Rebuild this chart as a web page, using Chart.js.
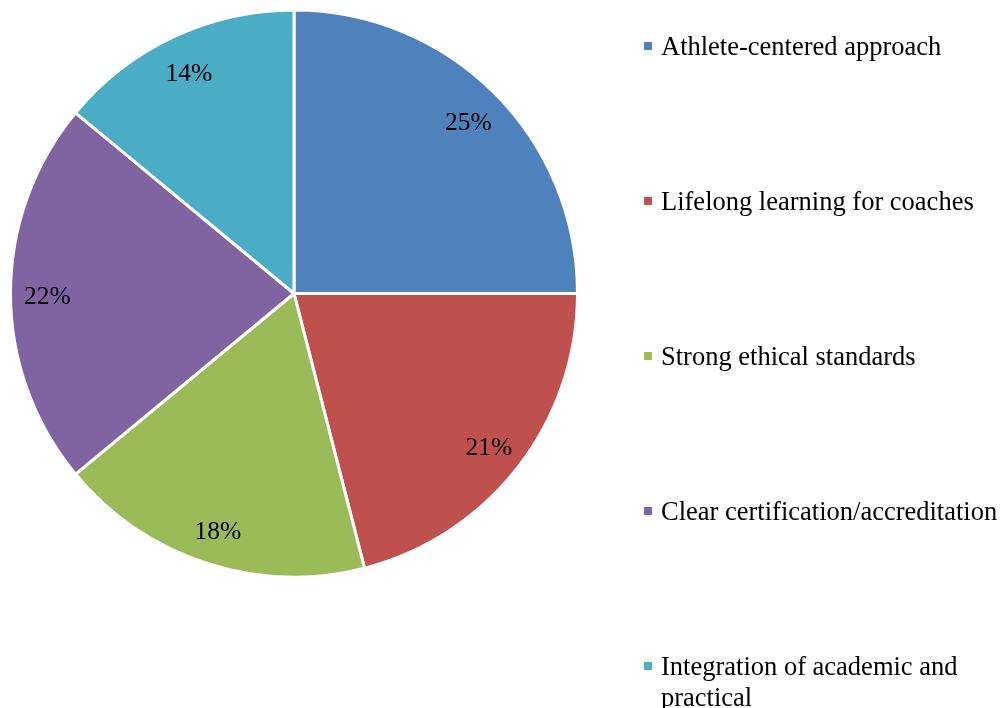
<!DOCTYPE html>
<html>
<head>
<meta charset="utf-8">
<script src="https://cdn.jsdelivr.net/npm/chart.js@4"></script>
<style>
  html, body { margin: 0; padding: 0; background: #fff; }
  canvas { display: block; }
</style>
</head>
<body>
<canvas id="pie" width="1003" height="708"></canvas>
<script>
// chart data
const categories = [
    'Athlete-centered approach',
    'Lifelong learning for coaches',
    'Strong ethical standards',
    'Clear certification/accreditation',
    'Integration of academic and practical'
];
const shares = [25, 21, 18, 22, 14];
const sliceColors = ['#4F81BD', '#C0504D', '#9BBB59', '#8064A2', '#4BACC6'];

const FONT = '"Liberation Serif", "Times New Roman", serif';

// percent labels inside the slices
const sliceLabels = {
    id: 'sliceLabels',
    afterDatasetsDraw(chart) {
        const ctx = chart.ctx;
        const meta = chart.getDatasetMeta(0);
        ctx.save();
        ctx.font = '25.5px ' + FONT;
        ctx.fillStyle = '#000';
        ctx.textAlign = 'center';
        ctx.textBaseline = 'middle';
        meta.data.forEach((arc, i) => {
            const mid = (arc.startAngle + arc.endAngle) / 2;
            const r = arc.outerRadius * 0.87;
            ctx.fillText(shares[i] + '%', arc.x + Math.cos(mid) * r, arc.y + Math.sin(mid) * r + 4);
        });
        ctx.restore();
    }
};

// legend on the right, spaced out like the original
const sideLegend = {
    id: 'sideLegend',
    afterDraw(chart) {
        const ctx = chart.ctx;
        const x0 = 644, textX = 661, maxW = 340;
        let y = 46;
        ctx.save();
        ctx.font = '26.5px ' + FONT;
        ctx.textBaseline = 'middle';
        categories.forEach((name, i) => {
            ctx.fillStyle = sliceColors[i];
            ctx.fillRect(x0, y - 4, 8, 8);
            ctx.fillStyle = '#000';
            // wrap long names
            const words = name.split(' ');
            let line = '', lines = [];
            words.forEach(w => {
                const test = line ? line + ' ' + w : w;
                if (ctx.measureText(test).width > maxW && line) {
                    lines.push(line);
                    line = w;
                } else {
                    line = test;
                }
            });
            lines.push(line);
            lines.forEach((l, j) => ctx.fillText(l, textX, y + 2 + j * 31));
            y += 155;
        });
        ctx.restore();
    }
};

new Chart(document.getElementById('pie'), {
    type: 'pie',
    data: {
        labels: categories,
        datasets: [{
            data: shares,
            backgroundColor: sliceColors,
            borderColor: '#fff',
            borderWidth: 3
        }]
    },
    options: {
        responsive: false,
        animation: false,
        layout: { padding: { left: 9, top: 8, right: 424, bottom: 129 } },
        plugins: {
            legend: { display: false },
            tooltip: { enabled: false }
        }
    },
    plugins: [sliceLabels, sideLegend]
});
</script>
</body>
</html>
